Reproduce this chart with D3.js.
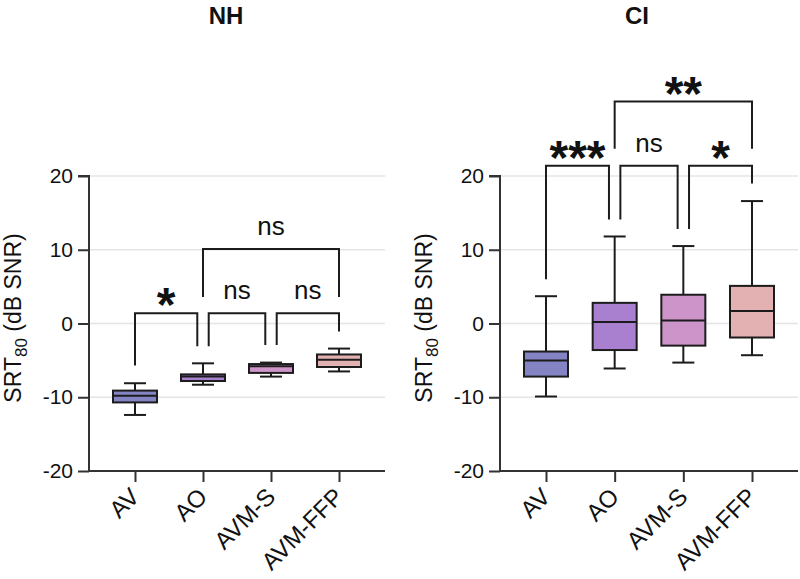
<!DOCTYPE html>
<html>
<head>
<meta charset="utf-8">
<script src="https://cdn.jsdelivr.net/npm/d3@7"></script>
<style>
  html, body { margin: 0; padding: 0; background: #fff; }
  svg { display: block; font-family: "Liberation Sans", Arial, sans-serif; }
</style>
</head>
<body>
<svg id="chart" width="800" height="579"></svg>
<script>
// ---------- data ----------
const categories = ["AV", "AO", "AVM-S", "AVM-FFP"];
const colors = ["#8483c4", "#a980d0", "#cc94c8", "#e3b1b1"];
const yTicks = [-20, -10, 0, 10, 20];

// NH box statistics
const nhMin    = [-12.4, -8.3, -7.2, -6.5];
const nhQ1     = [-10.7, -7.8, -6.7, -5.9];
const nhMedian = [-9.8, -7.2, -5.8, -4.9];
const nhQ3     = [-9.1, -6.9, -5.5, -4.2];
const nhMax    = [-8.1, -5.4, -5.3, -3.4];

// CI box statistics
const ciMin    = [-9.9, -6.1, -5.3, -4.3];
const ciQ1     = [-7.2, -3.6, -3.0, -1.9];
const ciMedian = [-5.0, 0.2, 0.4, 1.7];
const ciQ3     = [-3.8, 2.8, 3.9, 5.1];
const ciMax    = [3.7, 11.8, 10.5, 16.6];

// significance brackets
const nhPairs    = [[0, 1], [1, 2], [2, 3], [1, 3]];
const nhLabels   = ["*", "ns", "ns", "ns"];
const nhBarVal   = [1.4, 1.4, 1.4, 10.1];
const nhLegLeft  = [-5.7, -3.1, -2.9, 3.6];
const nhLegRight = [-3.1, -2.9, -1.1, 3.6];

const ciPairs    = [[0, 1], [1, 2], [2, 3], [1, 3]];
const ciLabels   = ["***", "ns", "*", "**"];
const ciBarVal   = [21.4, 21.4, 21.4, 30.1];
const ciLegLeft  = [6.0, 14.1, 12.8, 23.7];
const ciLegRight = [14.1, 12.8, 19.0, 23.7];

// ---------- drawing ----------
const svg = d3.select("#chart");
const INK = "#1c1c1c";
const FONT = "Liberation Sans, Arial, sans-serif";

function panel(opts) {
  const g = svg.append("g");
  const y = d3.scaleLinear().domain([-20, 20]).range([471, 176]);
  const x = d3.scalePoint().domain(categories).range([opts.x0 + 46, opts.x1 - 46]);

  // gridlines
  g.selectAll("line.grid").data(yTicks.filter(t => t > -20)).enter()
    .append("line")
    .attr("x1", opts.x0).attr("x2", opts.x1)
    .attr("y1", d => y(d)).attr("y2", d => y(d))
    .attr("stroke", "#e4e4e4").attr("stroke-width", 1.5);

  // y axis
  const yAxis = d3.axisLeft(y).tickValues(yTicks).tickSize(11).tickPadding(5)
    .tickFormat(d => String(d));
  const ya = g.append("g").attr("transform", `translate(${opts.x0},0)`).call(yAxis);
  ya.select(".domain").attr("stroke", "#333").attr("stroke-width", 2)
    .attr("d", `M-11,${y(20)}H0V${y(-20)}`);
  ya.selectAll(".tick line").attr("stroke", "#333").attr("stroke-width", 2);
  ya.selectAll(".tick text").attr("font-size", 21).attr("fill", "#111")
    .attr("font-family", FONT);

  // x axis
  const xAxis = d3.axisBottom(x).tickSize(11).tickPadding(4);
  const xa = g.append("g").attr("transform", `translate(0,${y(-20)})`).call(xAxis);
  xa.select(".domain").attr("stroke", "#333").attr("stroke-width", 2)
    .attr("d", `M${opts.x0},0H${opts.x1}`);
  xa.selectAll(".tick line").attr("stroke", "#333").attr("stroke-width", 2);
  xa.selectAll(".tick text")
    .attr("font-size", 24).attr("fill", "#111")
    .attr("font-family", FONT)
    .attr("text-anchor", "end")
    .attr("x", 0).attr("y", 0).attr("dy", "0.25em")
    .attr("transform", "translate(1,23) rotate(-45)");

  // boxes
  const boxW = 44, capW = 22;
  const bg = g.append("g");
  categories.forEach((c, i) => {
    const cx = x(c);
    bg.append("line").attr("x1", cx).attr("x2", cx)
      .attr("y1", y(opts.max[i])).attr("y2", y(opts.q3[i]))
      .attr("stroke", INK).attr("stroke-width", 2);
    bg.append("line").attr("x1", cx).attr("x2", cx)
      .attr("y1", y(opts.q1[i])).attr("y2", y(opts.min[i]))
      .attr("stroke", INK).attr("stroke-width", 2);
    [opts.max[i], opts.min[i]].forEach(v => {
      bg.append("line").attr("x1", cx - capW / 2).attr("x2", cx + capW / 2)
        .attr("y1", y(v)).attr("y2", y(v))
        .attr("stroke", INK).attr("stroke-width", 2);
    });
    bg.append("rect").attr("x", cx - boxW / 2).attr("width", boxW)
      .attr("y", y(opts.q3[i])).attr("height", y(opts.q1[i]) - y(opts.q3[i]))
      .attr("fill", colors[i]).attr("stroke", INK).attr("stroke-width", 2);
    bg.append("line").attr("x1", cx - boxW / 2).attr("x2", cx + boxW / 2)
      .attr("y1", y(opts.median[i])).attr("y2", y(opts.median[i]))
      .attr("stroke", INK).attr("stroke-width", 2);
  });

  // brackets
  const br = g.append("g");
  const off = 5.7;
  opts.pairs.forEach((p, k) => {
    const adj = (p[1] - p[0]) === 1;
    let xl = x(categories[p[0]]), xr = x(categories[p[1]]);
    if (adj && p[0] > 0) xl += off;
    if (adj && p[1] < categories.length - 1) xr -= off;
    const yb = y(opts.barVal[k]);
    br.append("path")
      .attr("d", `M${xl},${y(opts.legLeft[k])}V${yb}H${xr}V${y(opts.legRight[k])}`)
      .attr("fill", "none").attr("stroke", INK).attr("stroke-width", 2);
    const lab = opts.labels[k];
    const isStar = lab.indexOf("*") >= 0;
    br.append("text")
      .attr("x", (xl + xr) / 2)
      .attr("y", isStar ? yb + 8 : yb - 14)
      .attr("text-anchor", "middle")
      .attr("font-size", isStar ? 48 : 26)
      .attr("font-weight", isStar ? "bold" : "normal")
      .attr("fill", "#111")
      .text(lab);
  });

  // title
  g.append("text").attr("x", opts.titleX).attr("y", 24)
    .attr("text-anchor", "middle").attr("font-size", 24).attr("font-weight", "bold")
    .attr("fill", "#111").text(opts.title);

  // y label
  const yl = g.append("text")
    .attr("transform", `translate(${opts.x0 - 68.5},318) rotate(-90)`)
    .attr("text-anchor", "middle").attr("font-size", 23).attr("fill", "#111");
  yl.append("tspan").text("SRT");
  yl.append("tspan").attr("font-size", 17).attr("dy", 6).text("80");
  yl.append("tspan").attr("dy", -6).text(" (dB SNR)");
}

panel({
  x0: 89, x1: 385, title: "NH", titleX: 226,
  min: nhMin, q1: nhQ1, median: nhMedian, q3: nhQ3, max: nhMax,
  pairs: nhPairs, labels: nhLabels, barVal: nhBarVal, legLeft: nhLegLeft, legRight: nhLegRight
});
panel({
  x0: 500, x1: 798, title: "CI", titleX: 637,
  min: ciMin, q1: ciQ1, median: ciMedian, q3: ciQ3, max: ciMax,
  pairs: ciPairs, labels: ciLabels, barVal: ciBarVal, legLeft: ciLegLeft, legRight: ciLegRight
});
</script>
</body>
</html>
